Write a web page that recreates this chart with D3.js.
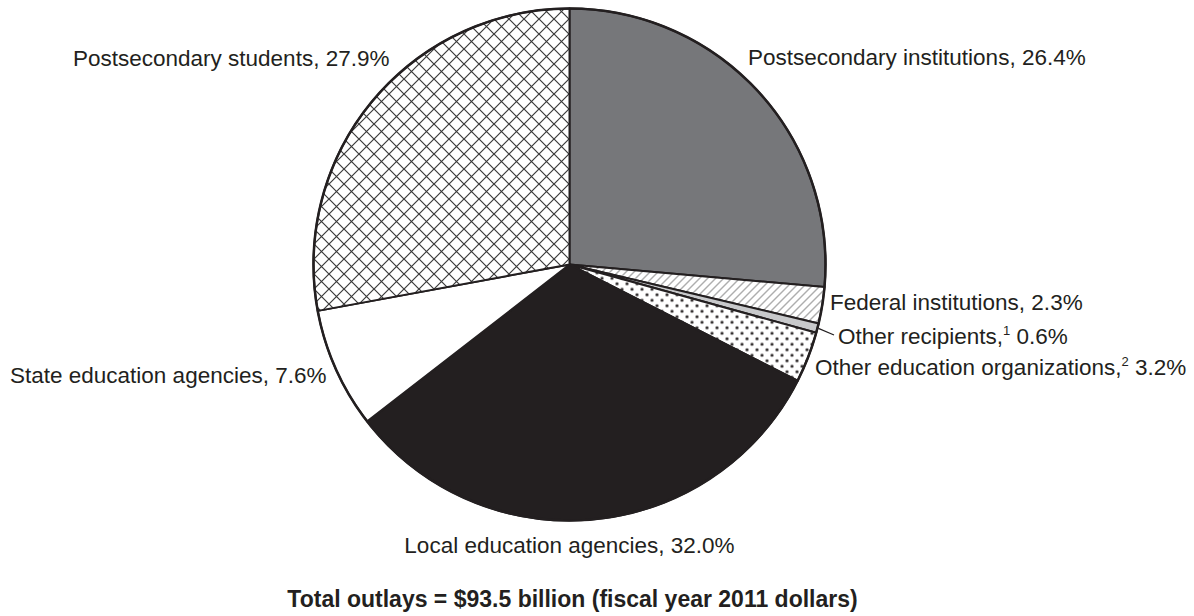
<!DOCTYPE html>
<html>
<head>
<meta charset="utf-8">
<script src="https://cdn.jsdelivr.net/npm/d3@7"></script>
<style>
  html, body { margin: 0; padding: 0; background: #fff; }
  svg { display: block; font-family: "Liberation Sans", Arial, Helvetica, sans-serif; }
</style>
</head>
<body>
<svg id="chart" width="1194" height="616"></svg>
<script>
// ---- data ----
const categories = [
  "Postsecondary institutions",
  "Federal institutions",
  "Other recipients",
  "Other education organizations",
  "Local education agencies",
  "State education agencies",
  "Postsecondary students"
];
const shares = [26.4, 2.3, 0.6, 3.2, 32.0, 7.6, 27.9];
const footnotes = ["", "", "1", "2", "", "", ""];
const totalLabel = "Total outlays = $93.5 billion (fiscal year 2011 dollars)";

// ---- layout / styles (kept separate from data) ----
const W = 1194, H = 616;
const cx = 569.5, cy = 264.5, R = 256;
const fills = ["#76777a", "url(#hatch)", "#c8c9cb", "url(#dots)", "#231f20", "#ffffff", "url(#cross)"];
const labelLayout = [
  {x: 748, y: 65, anchor: "start"},
  {x: 830, y: 310, anchor: "start"},
  {x: 838, y: 344, anchor: "start", leader: true},
  {x: 815, y: 375, anchor: "start"},
  {x: cx, y: 553, anchor: "middle"},
  {x: 10, y: 383, anchor: "start"},
  {x: 73, y: 66, anchor: "start"}
];
const ink = "#231f20";

const svg = d3.select("#chart");
const defs = svg.append("defs");

// diagonal hatch
const hatch = defs.append("pattern").attr("id", "hatch")
  .attr("patternUnits", "userSpaceOnUse").attr("width", 8).attr("height", 8);
hatch.append("rect").attr("width", 8).attr("height", 8).attr("fill", "#fff");
hatch.append("path").attr("d", "M-2,2 L2,-2 M0,8 L8,0 M6,10 L10,6")
  .attr("stroke", "#4a4a4a").attr("stroke-width", 0.9);

// dots
const dots = defs.append("pattern").attr("id", "dots")
  .attr("patternUnits", "userSpaceOnUse").attr("width", 10).attr("height", 11);
dots.append("rect").attr("width", 10).attr("height", 11).attr("fill", "#fff");
dots.append("circle").attr("cx", 2.5).attr("cy", 2.75).attr("r", 1.5).attr("fill", ink);
dots.append("circle").attr("cx", 7.5).attr("cy", 8.25).attr("r", 1.5).attr("fill", ink);

// crosshatch
const cross = defs.append("pattern").attr("id", "cross")
  .attr("patternUnits", "userSpaceOnUse").attr("width", 15).attr("height", 15)
  .attr("x", cx).attr("y", cy);
cross.append("rect").attr("width", 15).attr("height", 15).attr("fill", "#fff");
cross.append("path").attr("d", "M0,0 L15,15 M15,0 L0,15")
  .attr("stroke", "#3a3a3a").attr("stroke-width", 1.2);

const data = categories.map((c, i) => ({name: c, value: shares[i], i}));
const pie = d3.pie().sort(null).value(d => d.value).startAngle(0).endAngle(2 * Math.PI);
const arcs = pie(data);
const arc = d3.arc().innerRadius(0).outerRadius(R);

const g = svg.append("g").attr("transform", `translate(${cx},${cy})`);
g.selectAll("path.slice").data(arcs).join("path")
  .attr("class", "slice")
  .attr("d", arc)
  .attr("fill", d => fills[d.data.i])
  .attr("stroke", ink)
  .attr("stroke-width", 2)
  .attr("stroke-linejoin", "round");

g.append("circle").attr("r", R).attr("fill", "none").attr("stroke", ink).attr("stroke-width", 2.5);

// labels
const fmt = d3.format(".1f");
arcs.forEach(a => {
  const i = a.data.i;
  const L = labelLayout[i];
  const t = svg.append("text")
    .attr("x", L.x).attr("y", L.y)
    .attr("text-anchor", L.anchor)
    .attr("font-size", 22.5)
    .attr("fill", ink);
  t.append("tspan").text(categories[i] + ",");
  if (footnotes[i]) {
    t.append("tspan").attr("font-size", 13).attr("dy", -9).text(footnotes[i]);
    t.append("tspan").attr("dy", 9).text(" " + fmt(shares[i]) + "%");
  } else {
    t.append("tspan").text(" " + fmt(shares[i]) + "%");
  }
  if (L.leader) {
    const mid = (a.startAngle + a.endAngle) / 2;
    const x0 = cx + (R + 1) * Math.sin(mid), y0 = cy - (R + 1) * Math.cos(mid);
    svg.append("line")
      .attr("x1", x0).attr("y1", y0)
      .attr("x2", L.x - 4).attr("y2", L.y - 9)
      .attr("stroke", ink).attr("stroke-width", 1.2);
  }
});

svg.append("text")
  .attr("x", cx + 3).attr("y", 607)
  .attr("text-anchor", "middle")
  .attr("font-size", 23)
  .attr("font-weight", "bold")
  .attr("fill", ink)
  .text(totalLabel);
</script>
</body>
</html>
